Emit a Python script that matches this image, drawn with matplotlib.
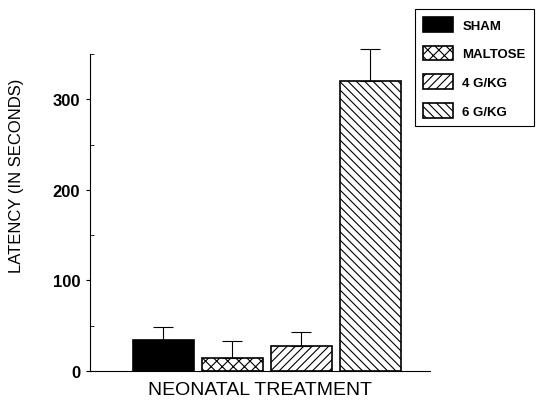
import numpy as np
import matplotlib.pyplot as plt
from matplotlib.ticker import MultipleLocator

groups = ['SHAM', 'MALTOSE', '4 G/KG', '6 G/KG']
latency = [34, 14, 28, 320]
err_upper = [15, 19, 15, 36]
hatches = ['', 'xxx', '////', '\\\\\\\\']
faces = ['black', 'white', 'white', 'white']

plt.rcParams['font.family'] = ['Liberation Sans', 'DejaVu Sans']
plt.rcParams['hatch.linewidth'] = 0.8


def main():
    fig = plt.figure(figsize=(5.42, 4.10), dpi=100)
    ax = fig.add_axes([0.166, 0.0927, 0.627, 0.773])

    x = np.arange(len(groups))
    bars = ax.bar(x, latency, width=0.88, color=faces, edgecolor='black',
                  linewidth=1.2)
    for b, h in zip(bars, hatches):
        b.set_hatch(h)
    eb = ax.errorbar(x, latency, yerr=[[0] * len(x), err_upper], fmt='none',
                     ecolor='black', elinewidth=0.8, capsize=7, capthick=0.8)
    for art in eb.lines[1] + eb.lines[2]:
        art.set_clip_on(False)

    ax.set_xlim(-1.065, 3.86)
    ax.set_ylim(0, 350)
    ax.spines['top'].set_visible(False)
    ax.spines['right'].set_visible(False)
    ax.set_xticks([])
    ax.yaxis.set_major_locator(MultipleLocator(100))
    ax.yaxis.set_minor_locator(MultipleLocator(50))
    ax.tick_params(axis='y', which='major', direction='out', length=3,
                   labelsize=12, pad=4)
    ax.tick_params(axis='y', which='minor', direction='in', length=3)
    for t in ax.get_yticklabels():
        t.set_fontweight('bold')

    ax.set_ylabel('LATENCY (IN SECONDS)', fontsize=12)
    ax.yaxis.set_label_coords(-0.195, 0.62)
    ax.set_xlabel('NEONATAL TREATMENT', fontsize=14, labelpad=7)

    leg = fig.legend(bars, groups, loc='upper left',
                     bbox_to_anchor=(415 / 542, 1 - 10 / 410),
                     borderaxespad=0,
                     prop={'size': 9.5, 'weight': 'bold'},
                     handlelength=2.3, handleheight=1.35, labelspacing=1.05,
                     borderpad=0.6, handletextpad=0.7, fancybox=False,
                     edgecolor='black', framealpha=1)
    leg.get_frame().set_linewidth(0.8)

    fig.savefig('out.png', dpi=100)


if __name__ == "__main__":
    main()
